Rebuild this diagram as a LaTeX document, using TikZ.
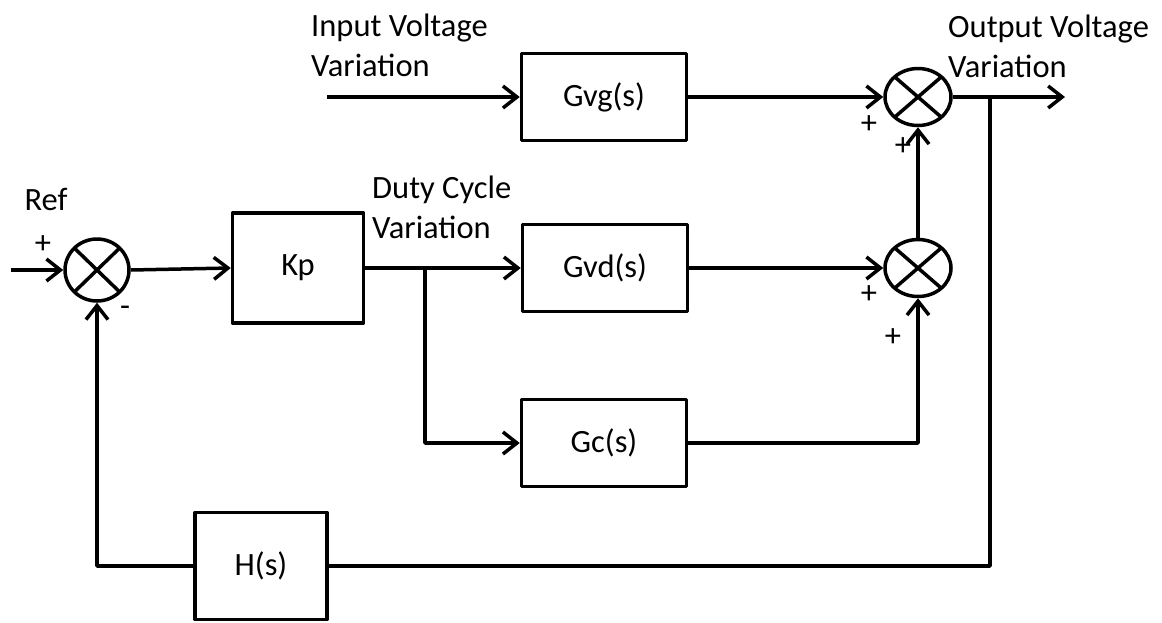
\documentclass[tikz,border=0pt]{standalone}
\usepackage{fontspec}
\setmainfont{Carlito}
\usetikzlibrary{arrows.meta,shapes.geometric}

\tikzset{
  blk/.style={draw, line width=3.5pt, minimum width=165pt, minimum height=87pt, inner sep=0pt},
  sumjn/.style={draw, ellipse, line width=3.5pt, minimum width=66pt, minimum height=57pt, inner sep=0pt,
    path picture={\draw[line width=3.5pt] (path picture bounding box.north west) -- (path picture bounding box.south east)
      (path picture bounding box.north east) -- (path picture bounding box.south west);}},
  wire/.style={line width=3.5pt},
  sig/.style={wire, -{Straight Barb[length=14pt,width=22pt]}},
  lbl/.style={inner sep=0pt, align=left}
}

\begin{document}
\begin{tikzpicture}[x=1pt, y=-1pt, font=\fontsize{32.5}{40}\selectfont, line join=round]
\useasboundingbox (0,0) rectangle (1162,622);
% blocks
\node[blk, minimum width=131pt, minimum height=110pt] (kp) at (298,268) {Kp};
\node[blk] (gvg) at (604,97) {Gvg(s)};
\node[blk] (gvd) at (605,268) {Gvd(s)};
\node[blk] (gc) at (604,443) {Gc(s)};
\node[blk, minimum width=132pt, minimum height=107pt] (hs) at (261,566) {H(s)};
% summing junctions
\node[sumjn, minimum width=64pt, minimum height=62pt] (sumref) at (97,270) {};
\node[sumjn] (sumout) at (918,97) {};
\node[sumjn] (summid) at (918,268) {};
% free ends and branch points
\coordinate (refin) at (11,270);
\coordinate (vin) at (327,97);
\coordinate (vout) at (1065,97);
\coordinate (split) at (425,268);
\coordinate (tap) at (990,97);
% connectors
\draw[sig] (refin) -- (sumref.west);
\draw[sig] (sumref.east) -- (kp.west);
\draw[sig] (kp.east) -- (gvd.west);
\draw[sig] (split) |- (gc.west);
\draw[sig] (vin) -- (gvg.west);
\draw[sig] (gvg.east) -- (sumout.west);
\draw[sig] (gvd.east) -- (summid.west);
\draw[sig] (gc.east) -| (summid.south);
\draw[sig] (summid.north) -- (sumout.south);
\draw[sig] (sumout.east) -- (vout);
\draw[wire] (tap) |- (hs.east);
\draw[sig] (hs.west) -| (sumref.south);
% labels
\node[lbl, anchor=west] (inlbl) at (311,45) {Input Voltage\\Variation};
\node[lbl, anchor=west] (outlbl) at (948,46) {Output Voltage\\Variation};
\node[lbl, anchor=west] (dlbl) at (372,207) {Duty Cycle\\Variation};
\node[lbl] (reflbl) at (46,199) {Ref};
\foreach \p/\s in {{(43,245)}/+, {(869,125)}/+, {(903,147)}/+, {(869,295)}/+, {(893,338)}/+, {(125,311)}/-} {
  \node[lbl] at \p {\s};
}
\end{tikzpicture}
\end{document}
